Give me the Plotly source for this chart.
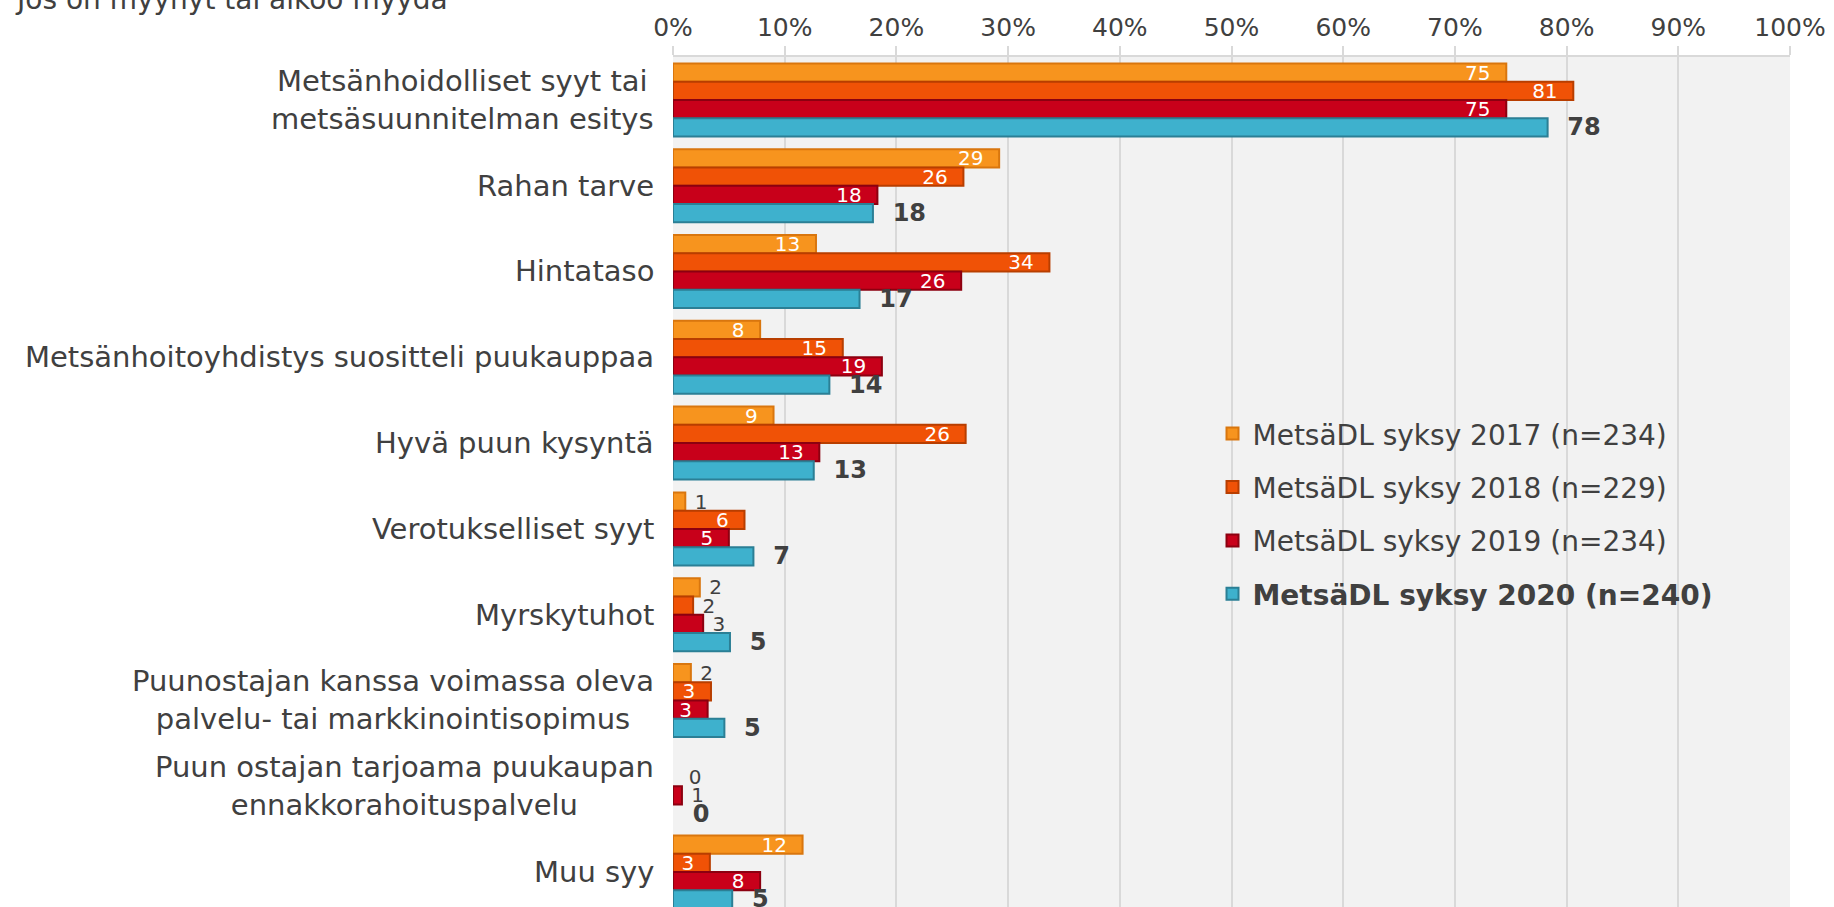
import plotly.graph_objects as go

categories = [
    "Metsänhoidolliset syyt tai<br>metsäsuunnitelman esitys",
    "Rahan tarve",
    "Hintataso",
    "Metsänhoitoyhdistys suositteli puukauppaa",
    "Hyvä puun kysyntä",
    "Verotukselliset syyt",
    "Myrskytuhot",
    "Puunostajan kanssa voimassa oleva<br>palvelu- tai markkinointisopimus",
    "Puun ostajan tarjoama puukaupan<br>ennakkorahoituspalvelu",
    "Muu syy",
]
s2017 = [74.6, 29.2, 12.8, 7.8, 9.0, 1.1, 2.4, 1.6, None, 11.6]
s2018 = [80.6, 26.0, 33.7, 15.2, 26.2, 6.4, 1.8, 3.4, 0.0, 3.3]
s2019 = [74.6, 18.3, 25.8, 18.7, 13.1, 5.0, 2.7, 3.1, 0.8, 7.8]
s2020 = [78.3, 17.9, 16.7, 14.0, 12.6, 7.2, 5.1, 4.6, 0.0, 5.3]

series_names = [
    "MetsäDL syksy 2017 (n=234)",
    "MetsäDL syksy 2018 (n=229)",
    "MetsäDL syksy 2019 (n=234)",
    "<b>MetsäDL syksy 2020 (n=240)</b>",
]
fill_colors = ["#F7941E", "#F05206", "#C8001A", "#3EB1CD"]
line_colors = ["#D9760E", "#B83E00", "#8C0010", "#2B7F95"]

title_text = "Jos on myynyt tai aikoo myydä"
x_ticks = list(range(0, 101, 10))

FONT = "DejaVu Sans"
TEXT = "#404040"
NB = "\u00a0"


def lbl(v):
    return str(int(v + 0.5))


fig = go.Figure()
all_series = [s2017, s2018, s2019, s2020]
for i, vals in enumerate(all_series):
    last = i == 3
    texts, positions, colors, lws = [], [], [], []
    for v in vals:
        lws.append(2 if (v is not None and v > 0) else 0)
        if v is None:
            texts.append("")
            positions.append("none")
            colors.append(TEXT)
        elif last:
            texts.append(NB + NB + lbl(v))
            positions.append("outside")
            colors.append(TEXT)
        elif v >= 3:
            texts.append(lbl(v) + NB + NB)
            positions.append("inside")
            colors.append("white")
        else:
            texts.append(NB + lbl(v) if v > 0.5 else NB + NB + lbl(v))
            positions.append("outside")
            colors.append(TEXT)
    fig.add_trace(go.Bar(
        y=categories, x=vals, orientation="h", name=series_names[i],
        legendgroup=f"g{i}",
        marker=dict(color=fill_colors[i], line=dict(color=line_colors[i], width=lws)),
        text=texts, textposition=positions, insidetextanchor="end",
        textangle=0, constraintext="none", cliponaxis=False,
        textfont=dict(family=FONT, size=24 if last else 20, color=colors,
                      weight="bold" if last else "normal"),
        hoverinfo="skip",
    ))

annotations = []
for c in categories:
    annotations.append(dict(
        x=0, xref="paper", y=c, yref="y", xanchor="right", yanchor="middle",
        xshift=-17, text=c, showarrow=False, align="center",
        font=dict(family=FONT, size=29, color=TEXT),
    ))
annotations.append(dict(
    x=-0.591, xref="paper", y=1.046, yref="paper", xanchor="left", yanchor="bottom",
    text=title_text, showarrow=False, align="left",
    font=dict(family=FONT, size=28, color=TEXT),
))

fig.update_layout(
    width=1834, height=907,
    margin=dict(l=673, r=44, t=57, b=0, pad=0),
    paper_bgcolor="white", plot_bgcolor="#F2F2F2",
    barmode="group", bargap=0.149, bargroupgap=0,
    font=dict(family=FONT, color=TEXT),
    showlegend=True,
    legend=dict(
        x=0.483, xanchor="left", y=0.586, yanchor="top",
        bgcolor="rgba(0,0,0,0)", borderwidth=0,
        font=dict(family=FONT, size=28, color=TEXT),
        traceorder="grouped", tracegroupgap=14, itemwidth=30,
    ),
    xaxis=dict(
        side="top", range=[0, 100], tickvals=x_ticks,
        ticktext=[f"{t}%" for t in x_ticks],
        showgrid=True, gridcolor="#D9D9D9", gridwidth=2,
        zeroline=False, showline=True, linecolor="#D9D9D9", linewidth=2,
        ticks="outside", ticklen=9, tickwidth=2, tickcolor="#D9D9D9",
        tickfont=dict(family=FONT, size=25, color=TEXT),
        fixedrange=True,
    ),
    yaxis=dict(
        type="category", categoryorder="array", categoryarray=categories,
        range=[9.407, -0.5], showticklabels=False, showgrid=False,
        zeroline=False, showline=False, ticks="", fixedrange=True,
    ),
    annotations=annotations,
)

fig.write_html("out.html", config={"displayModeBar": False},
               post_script="document.body.style.margin='0';")
